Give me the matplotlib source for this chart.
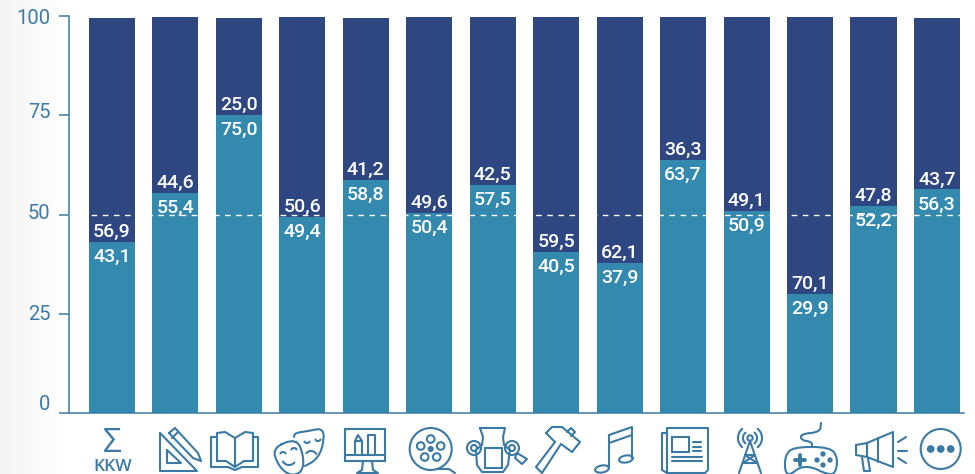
import numpy as np
import matplotlib
matplotlib.use("Agg")
import matplotlib.pyplot as plt
from matplotlib.patches import Circle, Ellipse, Rectangle
from matplotlib.transforms import ScaledTranslation

plt.rcParams['font.family'] = ['Roboto', 'DejaVu Sans']

# Values
lower_values = [43.1, 55.4, 75.0, 49.4, 58.8, 50.4, 57.5, 40.5, 37.9, 63.7, 50.9, 29.9, 52.2, 56.3]
upper_values = [56.9, 44.6, 25.0, 50.6, 41.2, 49.6, 42.5, 59.5, 62.1, 36.3, 49.1, 70.1, 47.8, 43.7]
# the dark bars stop a little short of 100 in the original
bar_tops = [99.5, 99.8, 99.5, 99.8, 99.5, 99.8, 99.8, 99.8, 99.8, 99.8, 99.8, 99.8, 99.8, 99.5]
y_ticks = [0, 25, 50, 75, 100]
y_tick_shift = [11, 1, 3, 5, 0]  # labels sit above their ticks, in pixels

DARK = "#2e4780"
LIGHT = "#338aae"
AXIS = "#3b7ba6"
ICON = "#3a7aa5"

fig = plt.figure(figsize=(9.75, 4.74), dpi=100)

# Soft grey fade on the left edge
bg = fig.add_axes([0, 0, 70 / 975, 1], zorder=0)
bg.imshow(np.linspace(0.955, 1, 70).reshape(1, -1), cmap="gray", vmin=0, vmax=1, aspect="auto")
bg.axis("off")

ax = fig.add_axes([68.5 / 975, 61 / 474, 895.5 / 975, 397 / 474], zorder=1)
ax.patch.set_alpha(0)

x = np.arange(len(lower_values))
width = 0.725
ax.bar(x, lower_values, width=width, color=LIGHT)
ax.bar(x, np.array(bar_tops) - np.array(lower_values), width=width, bottom=lower_values, color=DARK)
ax.axhline(50, color="white", lw=1, dashes=(4, 4), zorder=3)

for i in x:
    ax.annotate(f"{upper_values[i]:.1f}".replace(".", ","), (i, lower_values[i]), xytext=(0, 3.6),
                textcoords="offset points", ha="center", va="baseline", color="white",
                fontsize=14, fontweight="medium", zorder=4)
    ax.annotate(f"{lower_values[i]:.1f}".replace(".", ","), (i, lower_values[i]), xytext=(0, -14.4),
                textcoords="offset points", ha="center", va="baseline", color="white",
                fontsize=14, fontweight="medium", zorder=4)

ax.set_xlim(-0.685, 13.426)
ax.set_ylim(0, 100)
ax.set_xticks([])
ax.set_yticks(y_ticks)
ax.tick_params(axis="y", length=7.2, width=1.1, color=AXIS, labelcolor=AXIS, labelsize=14.5, pad=5.8)
for label, shift in zip(ax.get_yticklabels(), y_tick_shift):
    label.set_transform(label.get_transform() + ScaledTranslation(0, shift * 0.72 / 72, fig.dpi_scale_trans))
ax.spines[["top", "right"]].set_visible(False)
ax.spines[["left", "bottom"]].set_color(AXIS)
ax.spines[["left", "bottom"]].set_linewidth(1.1)

# Icons under the bars, drawn in image pixels
ic = fig.add_axes([0, 0, 1, 1], zorder=2)
ic.set_xlim(0, 975)
ic.set_ylim(474, 0)
ic.axis("off")
LW = 1.5


def line(*pts, closed=False, lw=LW):
    p = np.array(pts, dtype=float)
    if closed:
        p = np.vstack([p, p[0]])
    ic.plot(p[:, 0], p[:, 1], color=ICON, lw=lw, solid_joinstyle="round", solid_capstyle="round")


def smooth(*pts, closed=False, lw=LW, n=3):
    # corner cutting so the masks and gamepad look rounded
    p = np.array(pts, dtype=float)
    for _ in range(n):
        if closed:
            a, b = p, np.roll(p, -1, axis=0)
            mid = np.empty((len(a) * 2, 2))
            mid[0::2] = 0.75 * a + 0.25 * b
            mid[1::2] = 0.25 * a + 0.75 * b
            p = mid
        else:
            a, b = p[:-1], p[1:]
            mid = np.empty((len(a) * 2, 2))
            mid[0::2] = 0.75 * a + 0.25 * b
            mid[1::2] = 0.25 * a + 0.75 * b
            p = np.vstack([p[0], mid, p[-1]])
    line(*p, closed=closed, lw=lw)


def circle(cx, cy, r, fill=False, lw=LW):
    ic.add_patch(Circle((cx, cy), r, fc=ICON if fill else "none", ec=ICON, lw=lw))


def arc(cx, cy, r, a0, a1, lw=LW):
    t = np.radians(np.linspace(a0, a1, 30))
    ic.plot(cx + r * np.cos(t), cy - r * np.sin(t), color=ICON, lw=lw, solid_capstyle="round")


# total
ic.text(112.5, 452, "Σ", color=ICON, fontsize=24, ha="center", va="baseline", family=["Open Sans", "DejaVu Sans"])
ic.text(113, 471, "KKW", color=ICON, fontsize=12.5, fontweight="semibold", ha="center", va="baseline",
        family=["Open Sans", "DejaVu Sans"])

# set square and pencil
line((160, 433), (160, 471), (197, 471), closed=True)
line((167, 450), (167, 463), (181, 463), closed=True)
line((169, 433), (175, 428), (198, 453), (201, 461), (193, 458), closed=True)
line((172, 438), (178, 432))

# book
line((217, 461), (217, 433), (225, 432), (235, 438), (245, 432), (253, 433), (253, 461), (244, 461), (235, 467), (226, 461), closed=True)
line((235, 438), (235, 467))
line((217, 437), (211, 437), (211, 467), (228, 467), (235, 470), (242, 467), (258, 467), (258, 437), (253, 437))

# masks
smooth((272, 448), (297, 438), (304, 458), (302, 472), (291, 476), (279, 467), closed=True, n=2)
smooth((294, 437), (295, 433), (308, 431), (324, 428), (323, 447), (316, 460), (305, 466), n=2)
arc(283, 455, 3, 30, 150)
arc(294, 451, 3, 30, 150)
arc(289, 458, 7, 210, 320)
arc(307, 440, 3, 210, 330)
arc(318, 438, 3, 210, 330)
arc(311, 457, 6, 30, 140)

# monitor with bars
ic.add_patch(Rectangle((345, 429), 40, 32, fc="none", ec=ICON, lw=LW))
line((345, 455), (385, 455))
line((363, 461), (362, 470), (357, 473), (378, 473), (373, 470), (372, 461))
line((355, 455), (355, 441), (358, 435), (362, 441), (362, 455))
line((355, 441), (362, 441))
line((368, 455), (368, 435), (375, 435), (375, 455))

# film reel
circle(430.7, 449, 21)
for dx, dy in [(0, -10), (10, -3), (6, 8), (-6, 8), (-10, -3)]:
    circle(430.7 + dx, 449 + dy, 3.8)
circle(430.7, 449, 2, fill=True)
line((437, 469), (449, 469), (455, 473))

# vase
line((480, 428), (505, 428), (503, 437), (504, 445), (510, 450), (508, 465), (503, 472), (482, 472), (477, 465), (476, 450), (482, 445), (483, 437), closed=True)
ic.add_patch(Rectangle((485, 448), 17, 20, fc="none", ec=ICON, lw=LW))
for cx in (474, 512):
    circle(cx, 448, 7)
    circle(cx, 448, 3)
line((517, 453), (527, 459), (522, 464), (515, 458), closed=True)

# hammer
line((546, 433), (552, 427), (562, 427), (580, 442), (572, 452), (561, 444), (542, 473), (536, 467), (555, 442), closed=True)
line((567, 432), (571, 428), (575, 432), (571, 436))

# notes
ic.add_patch(Ellipse((602, 469), 14, 7, angle=-10, fc="none", ec=ICON, lw=LW))
ic.add_patch(Ellipse((626, 459), 14, 7, angle=-10, fc="none", ec=ICON, lw=LW))
line((609, 468), (609, 435), (632, 427), (632, 458))
line((609, 443), (632, 435))

# newspaper
line((667, 433), (667, 428), (708, 428), (708, 470), (705, 473), (667, 473), (662, 470), (662, 433), (667, 433))
line((667, 433), (667, 473))
ic.add_patch(Rectangle((672, 437), 17, 15, fc="none", ec=ICON, lw=LW))
for yy in (442, 447, 451):
    line((693, yy), (701, yy))
for yy in (457, 461):
    line((672, yy), (702, yy))

# radio mast
circle(750, 438, 2.7)
line((750, 441), (739, 473))
line((750, 441), (761, 473))
line((745, 455), (755, 455))
line((743, 463), (757, 463))
line((745, 455), (757, 463))
line((755, 455), (743, 463))
for r in (7, 12):
    arc(750, 438, r, 130, 230)
    arc(750, 438, r, -50, 50)

# gamepad
smooth((793, 447), (830, 447), (838, 458), (835, 475), (824, 473), (812, 467), (800, 467), (790, 475), (785, 472), (785, 456), closed=True, n=2)
smooth((812, 447), (812, 442), (801, 440), (801, 434), (820, 432), (821, 423), n=2)
line((795, 460), (805, 460), lw=2.8)
line((800, 455), (800, 465), lw=2.8)
for bx, by in [(823, 454), (830, 460), (817, 460), (823, 465)]:
    circle(bx, by, 1.6, fill=True)

# megaphone
line((867, 443), (893, 432), (893, 467), (867, 457), closed=True)
line((856, 445), (867, 443), (867, 457), (856, 455), closed=True)
line((878, 438), (878, 462))
line((862, 457), (864, 471), (870, 471), (868, 458))
line((898, 442), (906, 437))
line((898, 451), (907, 451))
line((898, 458), (906, 463))

# other
circle(940.7, 449, 20)
for dx in (-10, 0, 10):
    circle(940.7 + dx, 449, 2.8, fill=True)

fig.savefig("out.png", dpi=100)
